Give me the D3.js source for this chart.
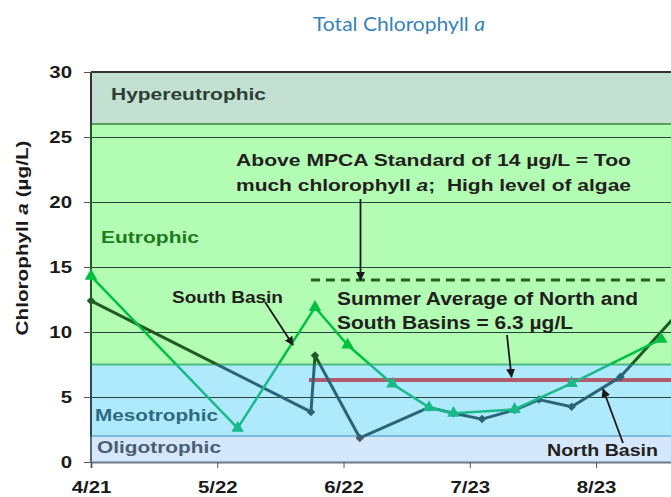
<!DOCTYPE html>
<html>
<head>
<meta charset="utf-8">
<script src="https://cdn.jsdelivr.net/npm/d3@7"></script>
<style>
  body { margin: 0; background: #fff; }
  svg { display: block; font-family: "Liberation Sans", Arial, sans-serif; }
  .tick text { font-weight: bold; font-size: 17px; fill: #1a1a1a; }
  .note { font-weight: bold; fill: #231f20; }
</style>
</head>
<body>
<div id="chart"></div>
<script>

const parseDate = d3.timeParse("%Y-%m-%d")

// sampling dates and values (µg/L)
const southDates = ['2013-04-21', '2013-05-27', '2013-06-15', '2013-06-23', '2013-07-04', '2013-07-13', '2013-07-19', '2013-08-03', '2013-08-17', '2013-09-08']
const southValues = [14.3, 2.6, 11.9, 9.0, 6.0, 4.2, 3.75, 4.05, 6.05, 9.45]

const northDates = ['2013-04-21', '2013-06-14', '2013-06-15', '2013-06-26', '2013-07-13', '2013-07-19', '2013-07-26', '2013-08-03', '2013-08-09', '2013-08-17', '2013-08-29', '2013-09-12']
const northValues = [12.4, 3.85, 8.2, 1.85, 4.2, 3.75, 3.3, 4.0, 4.8, 4.25, 6.55, 11.4]

// trophic bands
const bandNames = ['Oligotrophic', 'Mesotrophic', 'Eutrophic', 'Hypereutrophic']
const bandLow = [0, 2, 7.5, 26]
const bandHigh = [2, 7.5, 26, 30]

const xTickLabels = ['4/21', '5/22', '6/22', '7/23', '8/23']
const yTickValues = [0, 5, 10, 15, 20, 25, 30]

const mpcaStandard = 14
const summerAverage = 6.3
const refStart = '2013-06-14'

const width = 671, height = 497

// the source picture is a bit stretched sideways, so text gets widened
const stretch = 1.2

const fit = (sel, w) => sel.attr('textLength', w).attr('lengthAdjust', 'spacingAndGlyphs')

let svg = d3.select('#chart').append('svg')
  .attr('width', width)
  .attr('height', height)

let x = d3.scaleTime()
  .domain([parseDate('2013-04-21'), parseDate('2013-09-12')])
  .range([91, 677.5])

let y = d3.scaleLinear()
  .domain([0, 30])
  .range([462, 72])

const x0 = x.range()[0], x1 = x.range()[1]

let bandFill = ['#d5e7fb', '#aee9fc', '#b3fcb3', '#c4e0d2']
let bandTop = ['#7ab9dc', '#4dba80', '#5a9e5a', '#333333']
let bandLeft = ['#5a6a7a', '#2a4a5a', '#1a5e1a', '#333333']
let labelColor = ['#4b5d72', '#2d6a80', '#1f7a1f', '#2b3f34']

// bands
bandNames.forEach((b, i) => {
  svg.append('rect')
    .attr('x', x0).attr('y', y(bandHigh[i]))
    .attr('width', x1 - x0).attr('height', y(bandLow[i]) - y(bandHigh[i]))
    .attr('fill', bandFill[i])
})

// grid lines
svg.append('g')
  .selectAll('line')
  .data([5, 10, 15, 20, 25])
  .join('line')
  .attr('x1', x0).attr('x2', x1)
  .attr('y1', d => y(d) + 0.5).attr('y2', d => y(d) + 0.5)
  .attr('stroke', '#23473a')
  .attr('stroke-width', 1)

// band borders
bandNames.forEach((b, i) => {
  svg.append('line')
    .attr('x1', x0).attr('x2', x1)
    .attr('y1', y(bandHigh[i])).attr('y2', y(bandHigh[i]))
    .attr('stroke', bandTop[i]).attr('stroke-width', 2)
  svg.append('line')
    .attr('x1', x0).attr('x2', x0)
    .attr('y1', y(bandHigh[i])).attr('y2', y(bandLow[i]))
    .attr('stroke', bandLeft[i]).attr('stroke-width', 2)
})

// band labels
let bandLabelX = [97, 95, 101, 111]
let bandLabelY = [453, 421, 243, 100]
let bandLabelW = [124, 123, 98, 155]
bandNames.forEach((b, i) => {
  svg.append('text')
    .attr('x', bandLabelX[i]).attr('y', bandLabelY[i])
    .attr('font-weight', 'bold')
    .attr('font-size', 17)
    .attr('fill', labelColor[i])
    .text(b)
    .call(fit, bandLabelW[i])
})

// axes
let yAxis = svg.append('g')
  .attr('transform', 'translate(' + x0 + ',0)')
  .call(d3.axisLeft(y).tickValues(yTickValues).tickSize(7).tickPadding(12))
yAxis.select('.domain').remove()
yAxis.selectAll('.tick line').attr('stroke', '#555')

let xAxis = svg.append('g')
  .attr('transform', 'translate(0,' + y(0) + ')')
  .call(d3.axisBottom(x)
    .tickValues(xTickLabels.map(t => parseDate('2013-' + t.replace('/', '-'))))
    .tickFormat(d3.timeFormat('%-m/%-d'))
    .tickSize(6).tickPadding(13))
xAxis.select('.domain').attr('stroke', '#6a7888').attr('stroke-width', 2)
xAxis.selectAll('.tick line').attr('stroke', '#555')

svg.selectAll('.tick text').each(function() {
  d3.select(this).call(fit, this.getComputedTextLength() * stretch)
})

// axis title
svg.append('text')
  .attr('transform', 'translate(28,238) rotate(-90)')
  .attr('text-anchor', 'middle')
  .attr('font-weight', 'bold')
  .attr('font-size', 17)
  .attr('fill', '#1a1a1a')
  .html('Chlorophyll <tspan font-style="italic">a</tspan> (µg/L)')
  .call(fit, 195)

// chart title
svg.append('text')
  .attr('x', 313).attr('y', 31)
  .attr('font-family', 'Lato, "Open Sans", sans-serif')
  .attr('font-weight', 400)
  .attr('font-size', 19)
  .attr('fill', '#3583bb')
  .html('Total Chlorophyll <tspan font-style="italic">a</tspan>')
  .call(fit, 172)

// reference lines
svg.append('line')
  .attr('x1', x(parseDate(refStart))).attr('x2', x1)
  .attr('y1', y(mpcaStandard)).attr('y2', y(mpcaStandard))
  .attr('stroke', '#1f5f1f').attr('stroke-width', 3)
  .attr('stroke-dasharray', '9,6')

svg.append('line')
  .attr('x1', x(parseDate(refStart)) - 2).attr('x2', x1)
  .attr('y1', y(summerAverage)).attr('y2', y(summerAverage))
  .attr('stroke', '#b25b6c').attr('stroke-width', 4)

// clip regions so the series change tint with the band behind them
let defs = svg.append('defs')
let zones = [
  { id: 'zHigh', lo: 7.5, hi: 40 },
  { id: 'zMid', lo: 2, hi: 7.5 },
  { id: 'zLow', lo: -5, hi: 2 }
]
zones.forEach(z => {
  defs.append('clipPath').attr('id', z.id)
    .append('rect')
    .attr('x', 0).attr('width', x1)
    .attr('y', y(z.hi)).attr('height', y(z.lo) - y(z.hi))
})

const south = southDates.map((d, i) => ({ date: parseDate(d), value: southValues[i] }))
const north = northDates.map((d, i) => ({ date: parseDate(d), value: northValues[i] }))

let line = d3.line().x(d => x(d.date)).y(d => y(d.value))

let series = [
  { data: north, colors: ['#1e5a22', '#2a6478', '#4a5a6a'], width: 3, symbol: d3.symbolSquare, size: 36, rotate: 45 },
  { data: south, colors: ['#00c040', '#19b98a', '#19b98a'], width: 2.5, symbol: d3.symbolTriangle, size: 68, rotate: 0 }
]

series.forEach(s => {
  zones.forEach((z, zi) => {
    let g = svg.append('g').attr('clip-path', 'url(#' + z.id + ')')
    g.append('path')
      .datum(s.data)
      .attr('d', line)
      .attr('fill', 'none')
      .attr('stroke', s.colors[zi])
      .attr('stroke-width', s.width)
      .attr('stroke-linejoin', 'round')
    g.selectAll('path.mark')
      .data(s.data)
      .join('path')
      .attr('class', 'mark')
      .attr('d', d3.symbol().type(s.symbol).size(s.size))
      .attr('transform', d => 'translate(' + x(d.date) + ',' + y(d.value) + ') rotate(' + s.rotate + ')')
      .attr('fill', s.colors[zi])
  })
})

// annotation text
let notes = [
  { x: 236, y: 166, size: 17, w: 395, html: 'Above MPCA Standard of 14 µg/L = Too' },
  { x: 236, y: 191, size: 17, w: 395, html: 'much chlorophyll <tspan font-style="italic">a</tspan>;  High level of algae' },
  { x: 172, y: 303, size: 16, w: 111, html: 'South Basin' },
  { x: 337, y: 305, size: 18, w: 301, html: 'Summer Average of North and' },
  { x: 337, y: 329, size: 18, w: 236, html: 'South Basins = 6.3 µg/L' },
  { x: 547, y: 456, size: 17, w: 111, html: 'North Basin' }
]
notes.forEach(n => {
  svg.append('text')
    .attr('class', 'note')
    .attr('x', n.x).attr('y', n.y)
    .attr('font-size', n.size)
    .attr('xml:space', 'preserve')
    .html(n.html)
    .call(fit, n.w)
})

// arrows
defs.append('marker')
  .attr('id', 'head')
  .attr('viewBox', '0 0 10 10')
  .attr('refX', 9).attr('refY', 5)
  .attr('markerWidth', 5).attr('markerHeight', 5)
  .attr('markerUnits', 'strokeWidth')
  .attr('orient', 'auto')
  .append('path')
  .attr('d', 'M0,0 L10,5 L0,10 z')
  .attr('fill', '#1a1a1a')

let arrows = [
  [360.5, 199, 360.5, 280],
  [507, 335, 511.5, 377],
  [265, 302, 293, 345],
  [623, 443, 603, 389]
]
arrows.forEach(a => {
  svg.append('line')
    .attr('x1', a[0]).attr('y1', a[1])
    .attr('x2', a[2]).attr('y2', a[3])
    .attr('stroke', '#1a1a1a')
    .attr('stroke-width', 1.8)
    .attr('marker-end', 'url(#head)')
})

</script>
</body>
</html>
